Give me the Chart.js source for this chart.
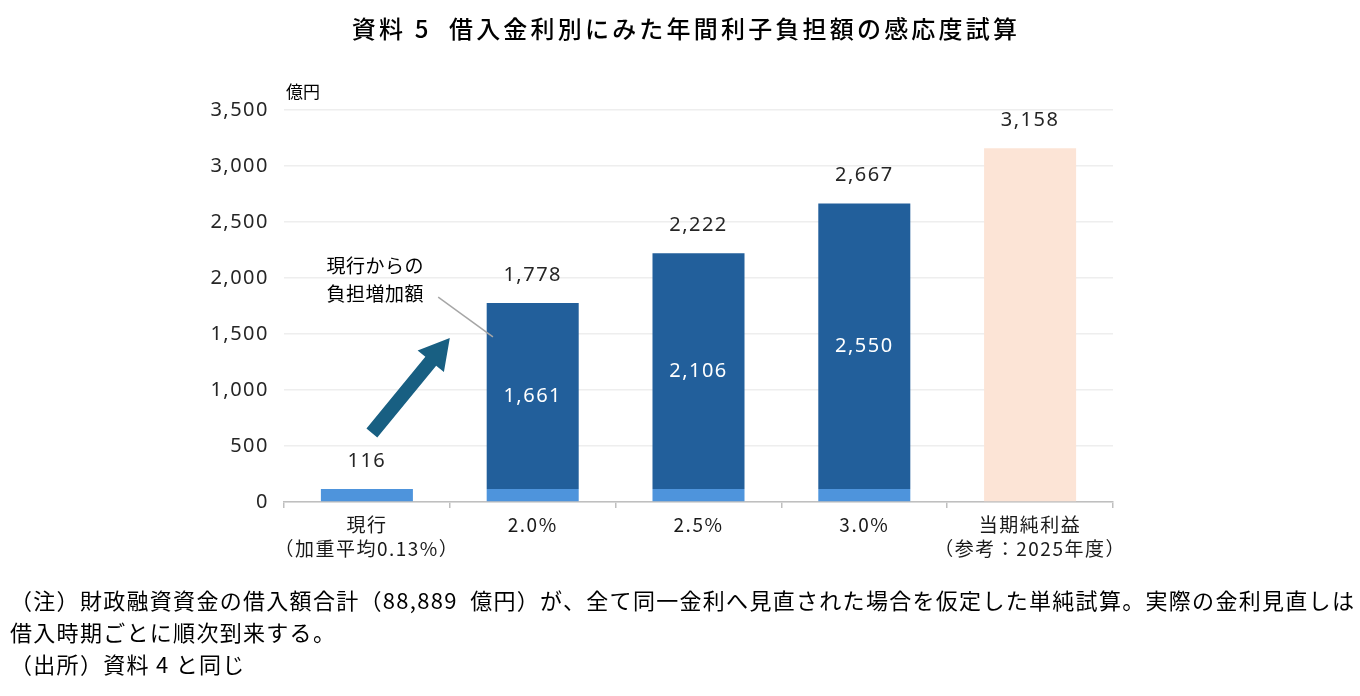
<!DOCTYPE html>
<html>
<head>
<meta charset="utf-8">
<script src="https://cdn.jsdelivr.net/npm/chart.js@4.4.1/dist/chart.umd.min.js"></script>
<style>
  html, body { margin: 0; padding: 0; background: #fff; }
  body { width: 1360px; height: 696px; position: relative; overflow: hidden;
         font-family: "Noto Sans CJK JP", "Noto Sans", sans-serif; color: #000; }
  #wrap { position: absolute; left: 0; top: 0; width: 1360px; height: 696px; }
  .title { position: absolute; top: 10px; left: 0; width: 1372px; text-align: center;
           font-size: 24px; font-weight: 500; letter-spacing: 3.2px; }
  .note { position: absolute; left: 10px; font-size: 22px; letter-spacing: 1.3px; white-space: nowrap; }
</style>
</head>
<body>
<div id="wrap"><canvas id="chart" width="1360" height="696"></canvas></div>
<div class="title">資料 5&nbsp; 借入金利別にみた年間利子負担額の感応度試算</div>
<div class="note" style="top:583px">（注）財政融資資金の借入額合計（88,889&nbsp; 億円）が、全て同一金利へ見直された場合を仮定した単純試算。実際の金利見直しは</div>
<div class="note" style="top:615px">借入時期ごとに順次到来する。</div>
<div class="note" style="top:647px">（出所）資料 4 と同じ</div>
<script>
// データ
const categories = [['現行', '（加重平均0.13%）'], '2.0%', '2.5%', '3.0%', ['当期純利益', '（参考：2025年度）']];
const baseInterest = [116, 116, 116, 116, 0];       // 現行の利子負担
const increase = [0, 1661, 2106, 2550, 0];          // 現行からの負担増加額
const netProfit = [0, 0, 0, 0, 3158];               // 当期純利益
const totalLabels = [116, 1778, 2222, 2667, 3158];  // 棒の上の数値
const yTicks = [0, 500, 1000, 1500, 2000, 2500, 3000, 3500];

const fontFamily = '"Noto Sans", "Noto Sans CJK JP", sans-serif';
const jpFont = '"Noto Sans CJK JP", "Noto Sans", sans-serif';
const fmt = v => v.toLocaleString('en-US');

// 字間を少し広げる
const spacingPlugin = {
  id: 'spacing',
  beforeUpdate(chart) { chart.ctx.letterSpacing = '1.5px'; },
  beforeDraw(chart) { chart.ctx.letterSpacing = '1.5px'; }
};

// 数値ラベルと矢印・注記
const overlayPlugin = {
  id: 'overlay',
  afterDatasetsDraw(chart) {
    const ctx = chart.ctx;
    const x = chart.scales.x, y = chart.scales.y;
    ctx.save();
    ctx.textAlign = 'center';
    ctx.textBaseline = 'middle';
    ctx.font = '20px ' + fontFamily;
    ctx.fillStyle = '#262626';
    totalLabels.forEach((v, i) => {
      ctx.fillText(fmt(v), x.getPixelForValue(i), y.getPixelForValue(v) - 28);
    });
    ctx.fillStyle = '#ffffff';
    increase.forEach((v, i) => {
      if (!v) return;
      const mid = baseInterest[i] + v / 2;
      ctx.fillText(fmt(v), x.getPixelForValue(i), y.getPixelForValue(mid));
    });

    // 矢印
    const x0 = x.getPixelForValue(0.03), y0 = y.getPixelForValue(616);
    const x1 = x.getPixelForValue(0.5), y1 = y.getPixelForValue(1464);
    const ang = Math.atan2(y1 - y0, x1 - x0);
    const headLen = 30, headW = 17, shaftW = 7;
    const cos = Math.cos(ang), sin = Math.sin(ang);
    const bx = x1 - headLen * cos, by = y1 - headLen * sin;
    const px = -sin, py = cos;
    ctx.fillStyle = '#185f82';
    ctx.beginPath();
    ctx.moveTo(x0 + px * shaftW, y0 + py * shaftW);
    ctx.lineTo(bx + px * shaftW, by + py * shaftW);
    ctx.lineTo(bx + px * headW, by + py * headW);
    ctx.lineTo(x1, y1);
    ctx.lineTo(bx - px * headW, by - py * headW);
    ctx.lineTo(bx - px * shaftW, by - py * shaftW);
    ctx.lineTo(x0 - px * shaftW, y0 - py * shaftW);
    ctx.closePath();
    ctx.fill();

    // 注記と引出線
    ctx.strokeStyle = '#a6a6a6';
    ctx.lineWidth = 1.5;
    ctx.beginPath();
    ctx.moveTo(x.getPixelForValue(0.43), y.getPixelForValue(1830));
    ctx.lineTo(x.getPixelForValue(0.76), y.getPixelForValue(1475));
    ctx.stroke();
    ctx.fillStyle = '#000';
    ctx.letterSpacing = '0.5px';
    ctx.font = '19px ' + jpFont;
    ctx.fillText('現行からの', x.getPixelForValue(0.05), y.getPixelForValue(2110));
    ctx.fillText('負担増加額', x.getPixelForValue(0.05), y.getPixelForValue(1860));

    // 単位
    ctx.textAlign = 'left';
    ctx.letterSpacing = '0px';
    ctx.font = '17px ' + jpFont;
    ctx.fillText('億円', x.left + 2, y.top - 18);
    ctx.restore();
  }
};

new Chart(document.getElementById('chart'), {
  type: 'bar',
  data: {
    labels: categories,
    datasets: [
      { label: '現行', data: baseInterest, backgroundColor: '#4e94dc', stack: 's' },
      { label: '増加額', data: increase, backgroundColor: '#225f9b', stack: 's' },
      { label: '当期純利益', data: netProfit, backgroundColor: '#fce4d6', stack: 's' }
    ]
  },
  options: {
    responsive: false,
    animation: false,
    layout: { padding: { top: 110, right: 247, left: 0, bottom: 0 } },
    datasets: { bar: { barPercentage: 0.555, categoryPercentage: 1.0 } },
    plugins: { legend: { display: false }, tooltip: { enabled: false } },
    scales: {
      x: {
        stacked: true,
        afterFit(scale) { scale.height = 194; },
        border: { color: '#bfbfbf', width: 1.5 },
        grid: { offset: true, drawOnChartArea: false, tickLength: 6, color: '#bfbfbf', lineWidth: 1.5 },
        ticks: { color: '#1a1a1a', font: { family: jpFont, size: 19, lineHeight: 1.3 }, padding: 4,
                 autoSkip: false, maxRotation: 0, minRotation: 0 }
      },
      y: {
        stacked: true,
        min: 0, max: 3500,
        afterFit(scale) { scale.width = 284; },
        afterBuildTicks(scale) { scale.ticks = yTicks.map(v => ({ value: v })); },
        border: { display: false },
        grid: { color: '#eeeeee', lineWidth: 1.5, drawTicks: false },
        ticks: { color: '#262626', font: { family: fontFamily, size: 20 }, padding: 15,
                 callback: v => fmt(v) }
      }
    }
  },
  plugins: [spacingPlugin, overlayPlugin]
});
</script>
</body>
</html>
